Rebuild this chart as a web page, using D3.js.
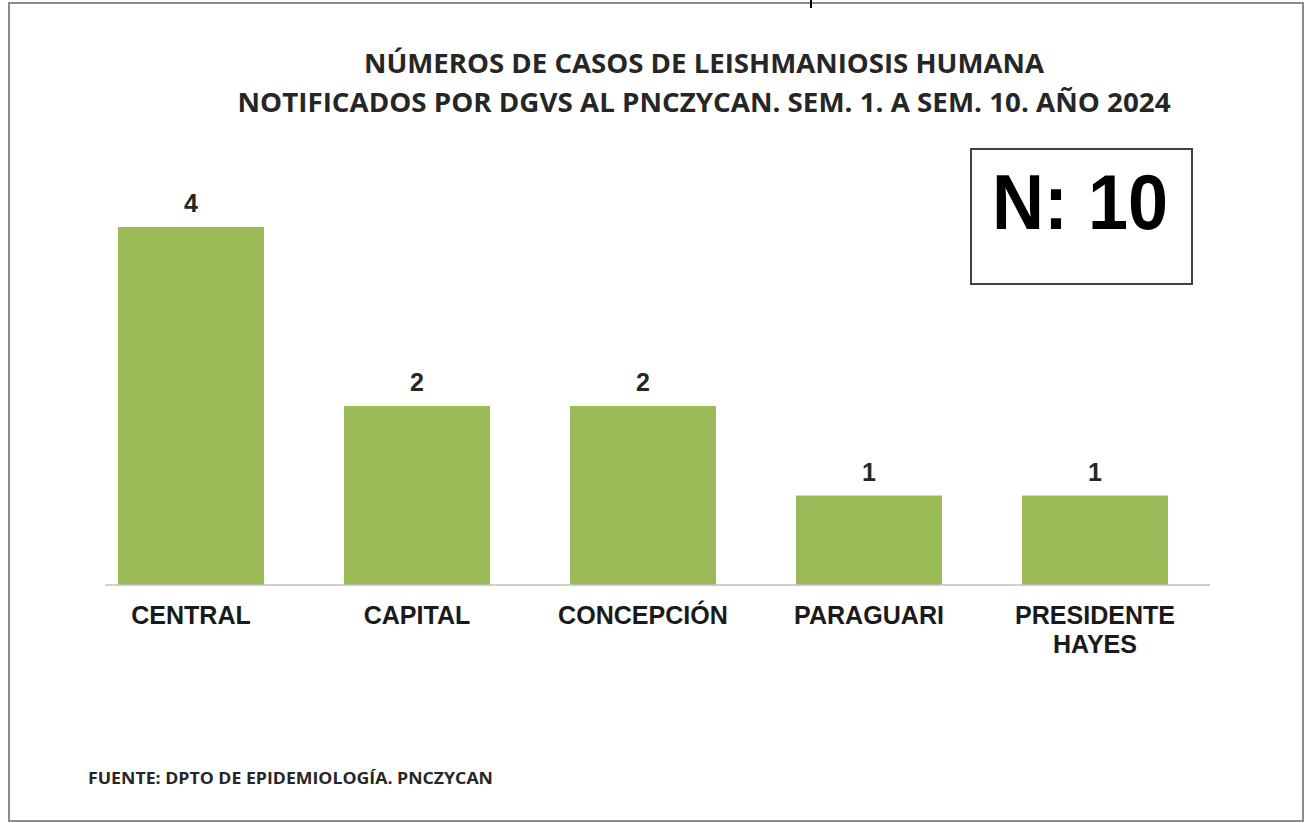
<!DOCTYPE html>
<html>
<head>
<meta charset="utf-8">
<script src="https://cdn.jsdelivr.net/npm/d3@7"></script>
<style>
  body { margin: 0; background: #fff; }
  svg { display: block; }
</style>
</head>
<body>
<div id="chart"></div>
<script>
// data
const departamentos = ["CENTRAL", "CAPITAL", "CONCEPCIÓN", "PARAGUARI", "PRESIDENTE HAYES"];
const casos = [4, 2, 2, 1, 1];
const tituloLineas = ["NÚMEROS DE CASOS DE LEISHMANIOSIS HUMANA", "NOTIFICADOS POR DGVS AL PNCZYCAN. SEM. 1. A SEM. 10. AÑO 2024"];
const totalTexto = "N: 10";
const fuente = "FUENTE: DPTO DE EPIDEMIOLOGÍA. PNCZYCAN";

const W = 1306, H = 823;
const svg = d3.select("#chart")
    .append("svg")
    .attr("width", W)
    .attr("height", H);

// outer frame
svg.append("rect")
    .attr("x", 9).attr("y", 3)
    .attr("width", 1294).attr("height", 818)
    .attr("fill", "#fff")
    .attr("stroke", "#8c8c8c")
    .attr("stroke-width", 2);
// little tick on top border
svg.append("line")
    .attr("x1", 811).attr("x2", 811)
    .attr("y1", 0).attr("y2", 8)
    .attr("stroke", "#000").attr("stroke-width", 2);

// title
const titleFont = "'Open Sans', 'DejaVu Sans', sans-serif";
const titleWidths = [680, 933];
svg.selectAll(".titulo")
    .data(tituloLineas)
    .join("text")
    .attr("class", "titulo")
    .attr("x", 704)
    .attr("y", (d, i) => 73 + i * 39)
    .attr("text-anchor", "middle")
    .attr("font-family", titleFont)
    .attr("font-weight", "bold")
    .attr("font-size", 26.5)
    .attr("fill", "#262626")
    .attr("textLength", (d, i) => titleWidths[i])
    .attr("lengthAdjust", "spacingAndGlyphs")
    .text(d => d);

// scales
const x = d3.scaleBand()
    .domain(departamentos)
    .range([78, 1208])
    .paddingInner(0.354)
    .paddingOuter(0.177);

const y = d3.scaleLinear()
    .domain([0, 4])
    .range([585, 227]);

// bars
svg.selectAll(".bar")
    .data(departamentos)
    .join("rect")
    .attr("class", "bar")
    .attr("x", d => x(d))
    .attr("y", (d, i) => y(casos[i]))
    .attr("width", x.bandwidth())
    .attr("height", (d, i) => y(0) - y(casos[i]))
    .attr("fill", "#9bbb59");

// baseline
svg.append("line")
    .attr("x1", 105).attr("x2", 1210)
    .attr("y1", y(0)).attr("y2", y(0))
    .attr("stroke", "#bfbfbf")
    .attr("stroke-width", 1.5);

const labelFont = "'Liberation Sans', Arial, sans-serif";

// value labels
svg.selectAll(".valor")
    .data(departamentos)
    .join("text")
    .attr("class", "valor")
    .attr("x", d => x(d) + x.bandwidth() / 2)
    .attr("y", (d, i) => y(casos[i]) - 15)
    .attr("text-anchor", "middle")
    .attr("font-family", labelFont)
    .attr("font-weight", "bold")
    .attr("font-size", 25)
    .attr("fill", "#262626")
    .text((d, i) => casos[i]);

// category labels (split into two lines like the original)
const catLines = d => d === "PRESIDENTE HAYES" ? ["PRESIDENTE", "HAYES"] : [d];
const cats = svg.selectAll(".cat")
    .data(departamentos)
    .join("text")
    .attr("class", "cat")
    .attr("text-anchor", "middle")
    .attr("font-family", labelFont)
    .attr("font-weight", "bold")
    .attr("font-size", 23)
    .attr("fill", "#1a1a1a")
    .attr("transform", d => `translate(${x(d) + x.bandwidth() / 2},624) scale(1.09,1.1)`);
cats.selectAll("tspan")
    .data(d => catLines(d))
    .join("tspan")
    .attr("x", 0)
    .attr("dy", (d, i) => i === 0 ? 0 : 26.5)
    .text(d => d);

// N box
svg.append("rect")
    .attr("x", 971).attr("y", 149)
    .attr("width", 221).attr("height", 135)
    .attr("fill", "#fff")
    .attr("stroke", "#404040")
    .attr("stroke-width", 2);
svg.append("text")
    .attr("x", 1080)
    .attr("y", 229)
    .attr("text-anchor", "middle")
    .attr("font-family", labelFont)
    .attr("font-weight", "bold")
    .attr("font-size", 78)
    .attr("fill", "#000")
    .attr("textLength", 176)
    .attr("lengthAdjust", "spacingAndGlyphs")
    .text(totalTexto);

// source note
svg.append("text")
    .attr("x", 88)
    .attr("y", 784)
    .attr("font-family", titleFont)
    .attr("font-weight", "bold")
    .attr("font-size", 15.5)
    .attr("fill", "#262626")
    .attr("textLength", 405)
    .attr("lengthAdjust", "spacingAndGlyphs")
    .text(fuente);
</script>
</body>
</html>
